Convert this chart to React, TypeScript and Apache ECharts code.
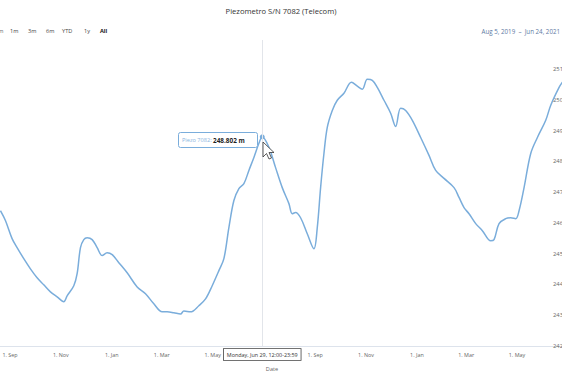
import React, { useEffect, useRef } from "react";
import * as echarts from "echarts";

const TITLE = "Piezometro S/N 7082 (Telecom)";
const RANGE_BUTTONS = ["1m", "3m", "6m", "YTD", "1y", "All"];
const RANGE_TEXT = "Aug 5, 2019  –  Jun 24, 2021";

const dates = [
  "2019-08-20", "2019-08-26", "2019-09-03", "2019-09-09", "2019-09-17", "2019-09-25",
  "2019-10-03", "2019-10-11", "2019-10-19", "2019-10-27", "2019-11-04", "2019-11-08",
  "2019-11-16", "2019-11-20", "2019-11-24", "2019-11-28", "2019-12-02", "2019-12-08",
  "2019-12-14", "2019-12-20", "2019-12-26", "2020-01-01", "2020-01-09", "2020-01-19",
  "2020-01-31", "2020-02-10", "2020-02-20", "2020-03-01", "2020-03-07", "2020-03-15",
  "2020-03-23", "2020-03-27", "2020-04-04", "2020-04-14", "2020-04-22", "2020-04-30",
  "2020-05-08", "2020-05-14", "2020-05-20", "2020-05-26", "2020-06-01", "2020-06-07",
  "2020-06-13", "2020-06-19", "2020-06-25", "2020-06-29", "2020-07-07", "2020-07-15",
  "2020-07-23", "2020-07-31", "2020-08-04", "2020-08-08", "2020-08-14", "2020-08-22",
  "2020-08-30", "2020-09-03", "2020-09-07", "2020-09-11", "2020-09-15", "2020-09-21",
  "2020-09-27", "2020-10-05", "2020-10-14", "2020-10-21", "2020-10-27", "2020-11-02",
  "2020-11-08", "2020-11-14", "2020-11-22", "2020-11-30", "2020-12-06", "2020-12-12",
  "2020-12-18", "2020-12-26", "2021-01-05", "2021-01-15", "2021-01-23", "2021-02-02",
  "2021-02-14", "2021-02-20", "2021-02-26", "2021-03-04", "2021-03-12", "2021-03-20",
  "2021-03-30", "2021-04-03", "2021-04-09", "2021-04-17", "2021-04-23", "2021-04-29",
  "2021-05-03", "2021-05-09", "2021-05-17", "2021-05-25", "2021-06-04", "2021-06-10",
  "2021-06-20", "2021-06-24",
];

const values = [
  246.40, 246.08, 245.49, 245.20, 244.84, 244.51,
  244.22, 243.99, 243.76, 243.60, 243.44, 243.63,
  243.96, 244.35, 245.20, 245.46, 245.52, 245.46,
  245.20, 244.94, 245.03, 244.97, 244.71, 244.38,
  243.92, 243.70, 243.37, 243.11, 243.11, 243.08,
  243.04, 243.14, 243.11, 243.31, 243.53, 243.96,
  244.45, 244.84, 245.85, 246.73, 247.12, 247.28,
  247.71, 248.13, 248.59, 248.802, 248.46, 247.80,
  247.15, 246.63, 246.30, 246.34, 246.17, 245.65,
  245.16, 245.85, 247.15, 248.26, 249.11, 249.66,
  249.99, 250.22, 250.58, 250.45, 250.35, 250.67,
  250.64, 250.41, 249.99, 249.57, 249.14, 249.73,
  249.66, 249.34, 248.78, 248.20, 247.71, 247.45,
  247.15, 246.83, 246.50, 246.30, 245.98, 245.75,
  245.42, 245.46, 245.98, 246.14, 246.17, 246.14,
  246.40, 247.15, 248.26, 248.78, 249.34, 249.83,
  250.41, 250.58,
];

const xTickDates = [
  "2019-09-01", "2019-11-01", "2020-01-01", "2020-03-01", "2020-05-01",
  "2020-09-01", "2020-11-01", "2021-01-01", "2021-03-01", "2021-05-01",
];
const xTickLabels = [
  "1. Sep", "1. Nov", "1. Jan", "1. Mar", "1. May",
  "1. Sep", "1. Nov", "1. Jan", "1. Mar", "1. May",
];

const X_MIN = "2019-08-20";
const X_MAX = "2021-06-24";
const Y_MIN = 242;
const Y_MAX = 251.95;
const Y_INTERVAL = 1;

const HOVER_DATE = "2020-06-29";
const HOVER_VALUE = 248.802;
const HOVER_DATE_LABEL = "Monday, Jun 29, 12:00-23:59";
const SERIES_NAME = "Piezo 7082";

const FONT = "'Open Sans', 'Noto Sans', sans-serif";
const LINE_COLOR = "#7aaddb";

export default function App() {
  const ref = useRef<HTMLDivElement | null>(null);

  useEffect(() => {
    if (!ref.current) return;
    const chart = echarts.init(ref.current, null, { renderer: "svg" });
    const ts = (d: string) => Date.parse(d + "T00:00:00Z");
    const tickTs = xTickDates.map(ts);
    const labelFor = (v: number) => {
      const i = tickTs.indexOf(v);
      return i >= 0 ? xTickLabels[i] : "";
    };
    const half = 12 * 3600 * 1000;
    const hoverTs = ts(HOVER_DATE) + half;

    const rangeX = [10, 28, 46, 62, 84, 100];

    const option: any = {
      animation: false,
      backgroundColor: "#ffffff",
      textStyle: { fontFamily: FONT },
      title: {
        text: TITLE,
        left: "center",
        top: 2,
        textStyle: { fontSize: 7.6, fontWeight: "normal", color: "#333333", fontFamily: FONT },
      },
      grid: { left: 0, right: 0, top: 40, bottom: 28, outerBoundsMode: "none", containLabel: false },
      xAxis: {
        type: "value",
        min: ts(X_MIN),
        max: ts(X_MAX),
        name: "Date",
        nameLocation: "middle",
        nameGap: 20,
        nameTextStyle: { fontSize: 5.6, color: "#666666", padding: [0, 18, 0, 0], fontFamily: FONT },
        axisLine: { show: true, lineStyle: { color: "#dde3ec", width: 1 } },
        axisTick: { show: false },
        splitLine: { show: false },
        axisLabel: {
          customValues: tickTs,
          formatter: (v: number) => labelFor(v),
          fontSize: 5.4,
          color: "#666666",
          margin: 6,
          fontFamily: FONT,
        },
        axisPointer: {
          show: true,
          type: "line",
          value: hoverTs,
          status: "show",
          snap: false,
          triggerTooltip: false,
          lineStyle: { color: "#e2e5ea", width: 1, type: "solid" },
          label: {
            show: true,
            formatter: () => HOVER_DATE_LABEL,
            backgroundColor: "#ffffff",
            borderColor: "#444444",
            borderWidth: 0.8,
            borderRadius: 0,
            color: "#333333",
            fontSize: 5.4,
            padding: [3, 3],
            margin: 3,
            fontFamily: FONT,
            shadowBlur: 0,
          },
        },
      },
      yAxis: {
        type: "value",
        position: "right",
        min: Y_MIN,
        max: Y_MAX,
        interval: Y_INTERVAL,
        axisLine: { show: false },
        axisTick: { show: false },
        splitLine: { show: false },
        axisLabel: {
          inside: true,
          align: "left",
          margin: 9,
          showMaxLabel: false,
          fontSize: 5.8,
          color: "#666666",
          fontFamily: FONT,
        },
      },
      series: [
        {
          name: SERIES_NAME,
          type: "line",
          data: dates.map((d, i) => [ts(d) + half, values[i]]),
          showSymbol: false,
          smooth: 0.35,
          lineStyle: { color: LINE_COLOR, width: 1.5 },
          itemStyle: { color: LINE_COLOR },
          markPoint: {
            symbol: "circle",
            symbolSize: 5,
            label: { show: false },
            itemStyle: { color: LINE_COLOR },
            data: [{ coord: [hoverTs, HOVER_VALUE] }],
          },
        },
      ],
      graphic: [
        {
          type: "text",
          x: 3.5,
          y: 31,
          style: { text: "Zoom", fontSize: 5.6, fill: "#666666", align: "right", verticalAlign: "middle", fontFamily: FONT },
        },
        ...RANGE_BUTTONS.map((b, i) => ({
          type: "text",
          x: rangeX[i],
          y: 31,
          style: {
            text: b,
            fontSize: 5.6,
            fill: b === "All" ? "#111111" : "#444444",
            fontWeight: b === "All" ? "bold" : "normal",
            verticalAlign: "middle",
            fontFamily: FONT,
          },
        })),
        {
          type: "text",
          x: 560,
          y: 31,
          style: {
            text: RANGE_TEXT,
            fontSize: 6.2,
            fill: "#5e7aa3",
            align: "right",
            verticalAlign: "middle",
            fontFamily: FONT,
          },
        },
        {
          type: "rect",
          shape: { x: 178.5, y: 132.5, width: 79, height: 15, r: 2 },
          style: { fill: "rgba(255,255,255,0.95)", stroke: LINE_COLOR, lineWidth: 1 },
          z: 100,
        },
        {
          type: "text",
          x: 182,
          y: 140,
          z: 101,
          style: {
            text: "{a|" + SERIES_NAME + ": }{b|" + HOVER_VALUE.toFixed(3) + " m}",
            verticalAlign: "middle",
            fontFamily: FONT,
            rich: {
              a: { fontSize: 5.6, fill: "#8ab4de", fontFamily: FONT },
              b: { fontSize: 6.4, fill: "#222222", fontWeight: "bold", fontFamily: FONT },
            },
          },
        },
        {
          type: "polygon",
          x: 263,
          y: 142,
          z: 102,
          shape: {
            points: [[0, 0], [0, 15], [3.5, 11.5], [6, 17], [8.5, 16], [6, 10.5], [11, 10.5]],
          },
          style: { fill: "#ffffff", stroke: "#333333", lineWidth: 0.8 },
        },
      ],
    };

    chart.setOption(option);
    return () => chart.dispose();
  }, []);

  return (
    <div
      ref={ref}
      style={{ position: "fixed", left: 0, top: 0, width: 562, height: 374, background: "#fff" }}
    />
  );
}
